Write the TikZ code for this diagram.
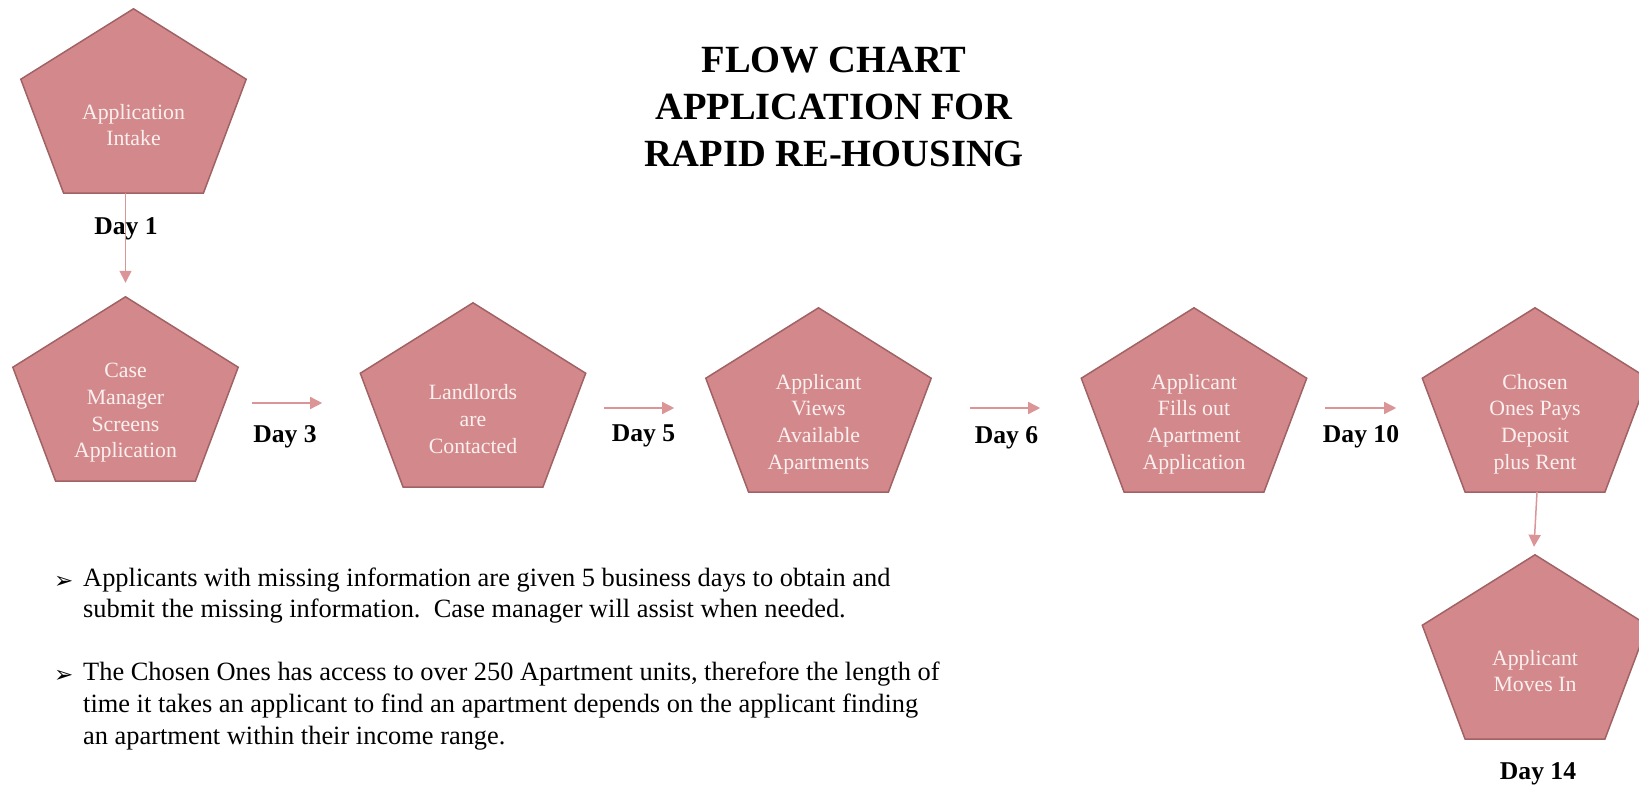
\documentclass[tikz,border=0pt]{standalone}
\usepackage{fontspec}
\setmainfont{Liberation Serif}
\newfontfamily\symfont{DejaVu Sans}
\usetikzlibrary{calc,arrows.meta}

\definecolor{pentfill}{RGB}{211,137,139}
\definecolor{pentedge}{RGB}{160,98,100}
\definecolor{penttxt}{RGB}{251,240,240}
\definecolor{flowcol}{RGB}{219,149,151}

\tikzset{
  pentbox/.style={shape=rectangle, minimum width=225pt, minimum height=184pt, inner sep=0pt},
  pentline/.style={fill=pentfill, draw=pentedge, line width=1.5pt, line join=miter},
  penttext/.style={align=center, text=penttxt, inner sep=0pt,
                   font=\fontsize{21.8}{26.7}\selectfont},
  flow/.style={draw=flowcol, line width=1.5pt, -{Triangle[length=12pt,width=12pt]}},
  daylabel/.style={anchor=base, inner sep=0pt, font=\fontsize{25.6}{30}\bfseries},
  titleline/.style={anchor=base, inner sep=0pt, font=\fontsize{38.5}{47}\bfseries},
  noteline/.style={anchor=base west, inner sep=0pt, font=\fontsize{26.4}{31.5}\selectfont},
  notemark/.style={anchor=base west, inner sep=0pt, font=\symfont\fontsize{23}{25}\selectfont},
}

% A pentagon step: name, centre x, top y, text
\newcommand{\pentstep}[4]{%
  \node[pentbox] (#1) at (#2, #3+92) {};
  \draw[pentline] (#1.north)
    -- ($(#1.north west)!0.382!(#1.south west)$)
    -- ($(#1.south west)!0.19!(#1.south east)$)
    -- ($(#1.south east)!0.19!(#1.south west)$)
    -- ($(#1.north east)!0.382!(#1.south east)$)
    -- cycle;
  \node[penttext] (#1-text) at ($(#1.north)!0.63!(#1.south)$) {#4};
}

\begin{document}
\begin{tikzpicture}[x=1pt, y=-1pt]
  \useasboundingbox (0,0) rectangle (1639,786);
  \clip (0,0) rectangle (1639,786);

  % title
  \node[titleline] (title1) at (834,72.5) {FLOW CHART};
  \node[titleline] (title2) at (834,120) {APPLICATION FOR};
  \node[titleline] (title3) at (834,167) {RAPID RE-HOUSING};

  % steps
  \pentstep{intake}{133.5}{9}{Application\\Intake}
  \pentstep{screen}{125.5}{297}{Case\\Manager\\Screens\\Application}
  \pentstep{landlord}{473}{303}{Landlords\\are\\Contacted}
  \pentstep{views}{818.5}{308}{Applicant\\Views\\Available\\Apartments}
  \pentstep{fills}{1194}{308}{Applicant\\Fills out\\Apartment\\Application}
  \pentstep{pays}{1535}{308}{Chosen\\Ones Pays\\Deposit\\plus Rent}
  \pentstep{moves}{1535}{555}{Applicant\\Moves In}

  % connectors
  \draw[flow] (screen.north |- intake.south) -- ([yshift=14pt]screen.north);
  \draw[flow] ($(screen.east)+(14,14)$) -- ++(70,0);
  \draw[flow] ($(landlord.east)+(18.5,13)$) -- ++(70,0);
  \draw[flow] ($(views.east)+(39,8)$) -- ++(70,0);
  \draw[flow] ($(fills.east)+(18.5,8)$) -- ++(71,0);
  \draw[flow] ([xshift=2pt]pays.south) -- ([xshift=-1pt,yshift=8pt]moves.north);

  % day labels
  \node[daylabel] (day1) at (126,235) {Day 1};
  \node[daylabel] (day3) at (285,442) {Day 3};
  \node[daylabel] (day5) at (643.5,441) {Day 5};
  \node[daylabel] (day6) at (1006.5,443) {Day 6};
  \node[daylabel] (day10) at (1361,442) {Day 10};
  \node[daylabel] (day14) at (1538,779) {Day 14};

  % notes
  \node[notemark] (mark1) at (54,588) {➢};
  \node[noteline] (note1a) at (83,586) {Applicants with missing information are given 5 business days to obtain and};
  \node[noteline] (note1b) at (83,617) {submit the missing information.\ \ Case manager will assist when needed.};
  \node[notemark] (mark2) at (54,682) {➢};
  \node[noteline] (note2a) at (83,680) {The Chosen Ones has access to over 250 Apartment units, therefore the length of};
  \node[noteline] (note2b) at (83,712) {time it takes an applicant to find an apartment depends on the applicant finding};
  \node[noteline] (note2c) at (83,744) {an apartment within their income range.};
\end{tikzpicture}
\end{document}
